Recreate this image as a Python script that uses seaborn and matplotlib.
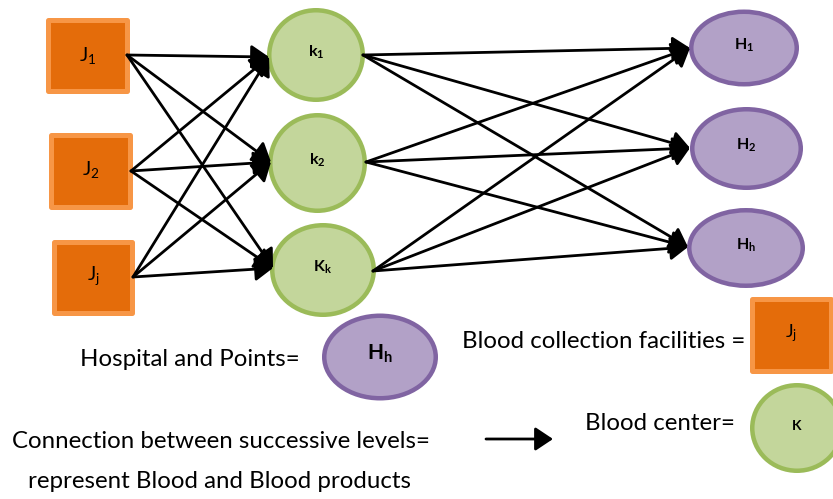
import matplotlib
matplotlib.use("Agg")
import matplotlib.pyplot as plt
from matplotlib import font_manager
from matplotlib.patches import Ellipse, Rectangle
import seaborn as sns

# node labels for the three levels of the supply chain
collection_labels = [r"$\mathrm{J}_{\mathrm{1}}$", r"$\mathrm{J}_{\mathrm{2}}$", r"$\mathrm{J}_{\mathrm{j}}$"]
center_labels = [r"$\mathbf{k}_{\mathbf{1}}$", r"$\mathbf{k}_{\mathbf{2}}$", r"$\mathbf{K}_{\mathbf{k}}$"]
hospital_labels = [r"$\mathbf{H}_{\mathbf{1}}$", r"$\mathbf{H}_{\mathbf{2}}$", r"$\mathbf{H}_{\mathbf{h}}$"]

# legend texts
legend_texts = ["Hospital and Points=", "Blood collection facilities =", "Blood center=",
                "Connection between successive levels=", "represent Blood and Blood products"]

# layout (pixel space of the 833x499 picture)
j_boxes = [(46, 17, 84, 76), (49, 132, 84, 77), (52, 239, 83, 76)]
j_text = [(88, 55), (91, 170), (93, 276)]
j_out = [(127, 55), (131, 171), (133, 277)]
k_shape = [(316, 55, 98, 94), (317.5, 163, 99, 100), (323, 270, 106, 94)]
k_in = [(269, 57), (271, 162), (273, 268)]
k_out = [(363, 55), (366, 162), (373, 271)]
h_shape = [(744, 48, 110, 77), (746.5, 148.5, 113, 83), (746, 248, 118, 80)]
h_in = [(690, 48), (690, 148), (688, 247)]

ORANGE, ORANGE_EDGE = "#E46C0A", "#F79646"
GREEN, GREEN_EDGE = "#C3D69B", "#9BBB59"
PURPLE, PURPLE_EDGE = "#B2A1C7", "#8064A2"

sns.set_theme(style="white")
fonts = font_manager.fontManager.ttflist
names = {f.name for f in fonts}
fam = next(f for f in ["Liberation Sans Narrow", "Lato", "DejaVu Sans"] if f in names)
bold_names = {f.name for f in fonts if f.weight in ("bold", 700, "heavy", 800, 900)}
bfam = next(f for f in [fam, "Open Sans", "Roboto", "Liberation Sans", "DejaVu Sans"]
            if f in bold_names)
plt.rcParams["font.family"] = [fam, "DejaVu Sans"]
plt.rcParams["text.color"] = "black"
plt.rcParams["mathtext.fontset"] = "custom"
plt.rcParams["mathtext.rm"] = fam
plt.rcParams["mathtext.bf"] = bfam + ":bold"
plt.rcParams["mathtext.it"] = fam

fig = plt.figure(figsize=(8.33, 4.99), dpi=100)
ax = fig.add_axes([0, 0, 1, 1])
ax.set_xlim(0, 833)
ax.set_ylim(499, 0)
ax.axis("off")

PX = 0.72  # points per pixel


def box(x, y, w, h, label, fs, tx=None, ty=None):
    lw = 5
    ax.add_patch(Rectangle((x + lw / 2, y + lw / 2), w - lw, h - lw, facecolor=ORANGE,
                           edgecolor=ORANGE_EDGE, lw=lw * PX, joinstyle="round", zorder=2))
    tx = x + w / 2 if tx is None else tx
    ty = y + h / 2 if ty is None else ty
    ax.text(tx, ty, label, ha="center", va="center", fontsize=fs, zorder=3)


def oval(cx, cy, w, h, fc, ec, label, fs, lw=4.5):
    ax.add_patch(Ellipse((cx, cy), w - lw, h - lw, facecolor=fc, edgecolor=ec,
                         lw=lw * PX, zorder=2))
    ax.text(cx, cy - 3, label, ha="center", va="center", fontsize=fs, zorder=3)


def arrow(p, q):
    ax.annotate("", xy=q, xytext=p, zorder=4,
                arrowprops=dict(arrowstyle="-|>,head_length=0.45,head_width=0.3",
                                mutation_scale=24, color="black", lw=2.0,
                                shrinkA=0, shrinkB=0))


for (x, y, w, h), (tx, ty), lab in zip(j_boxes, j_text, collection_labels):
    box(x, y, w, h, lab, 14, tx, ty)

for (cx, cy, w, h), lab in zip(k_shape, center_labels):
    oval(cx, cy, w, h, GREEN, GREEN_EDGE, lab, 11.5)

for (cx, cy, w, h), lab in zip(h_shape, hospital_labels):
    oval(cx, cy, w, h, PURPLE, PURPLE_EDGE, lab, 11.5)

# every node of one level feeds every node of the next
for p in j_out:
    for q in k_in:
        arrow(p, q)
for p in k_out:
    for q in h_in:
        arrow(p, q)

# legend
fs = 17.3
ax.text(80, 360, legend_texts[0], ha="left", va="center", fontsize=fs)
oval(380, 357, 116, 87, PURPLE, PURPLE_EDGE, r"$\mathbf{H}_{\mathbf{h}}$", 15)
ax.text(462, 342, legend_texts[1], ha="left", va="center", fontsize=fs)
box(750, 296, 84, 77, r"$\mathrm{J}_{\mathrm{j}}$", 13, 791, 333)
ax.text(585, 424, legend_texts[2], ha="left", va="center", fontsize=fs)
oval(797, 428, 94, 90, GREEN, GREEN_EDGE, r"$\mathbf{K}$", 10)
ax.text(12, 441, legend_texts[3], ha="left", va="center", fontsize=fs)
ax.text(28, 482, legend_texts[4], ha="left", va="center", fontsize=fs)
arrow((486, 439), (553, 439))

fig.savefig("out.png", dpi=100)
